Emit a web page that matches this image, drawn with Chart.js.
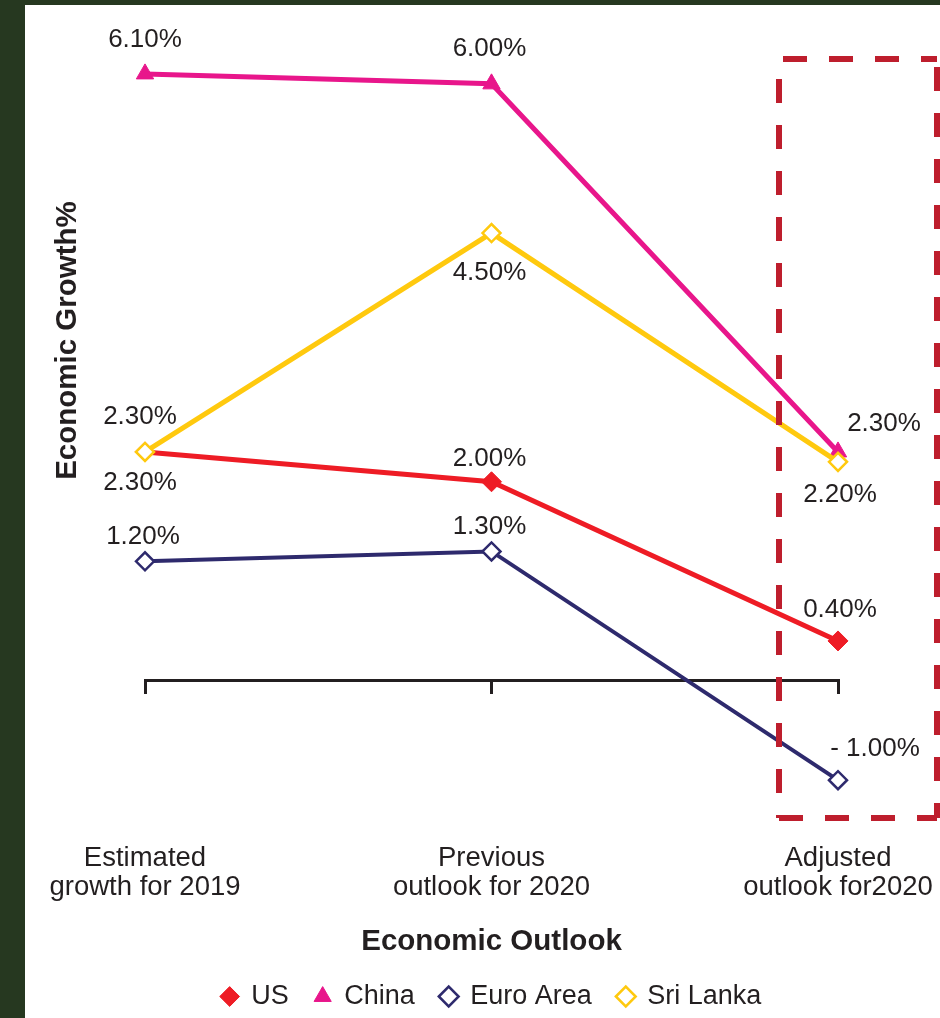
<!DOCTYPE html>
<html><head><meta charset="utf-8">
<script src="https://cdn.jsdelivr.net/npm/chart.js@4"></script>
<style>
html,body{margin:0;padding:0;background:#263820;width:940px;height:1018px;overflow:hidden}
#wrap{position:absolute;left:25px;top:5px;width:915px;height:1013px;background:#fff}
</style></head><body>
<div id="wrap"><canvas id="c"></canvas></div>
<script>
// ---- data ----
const categories = [["Estimated", "growth for 2019"], ["Previous", "outlook for 2020"], ["Adjusted", "outlook for2020"]];
const seriesNames = ["US", "China", "Euro Area", "Sri Lanka"];
const usValues = [2.3, 2.0, 0.4];
const chinaValues = [6.1, 6.0, 2.3];
const euroValues = [1.2, 1.3, -1.0];
const sriLankaValues = [2.3, 4.5, 2.2];
const xAxisTitle = "Economic Outlook";
const yAxisTitle = "Economic Growth%";

// ---- styles ----
const TXT = '#231f20';
const FONT = "'Liberation Sans', Arial, sans-serif";
const colors = { us: '#ee1c25', china: '#e8168b', euro: '#2e2a6d', sri: '#ffc90e' };
// data label offsets (dx, dy) from each point, in px
const usLabelOffsets = [[-5, 31], [-2, -23], [2, -31]];
const chinaLabelOffsets = [[0, -34], [-2, -35], [46, -28]];
const euroLabelOffsets = [[-2, -25], [-2, -25], [37, -31]];
const sriLabelOffsets = [[-5, -35], [-2, 40], [2, 33]];

function fmt(v) {
  return (v < 0 ? '- ' + Math.abs(v).toFixed(2) : v.toFixed(2)) + '%';
}

const dataLabelsPlugin = {
  id: 'dataLabels',
  afterDatasetsDraw(chart) {
    const ctx = chart.ctx;
    ctx.save();
    ctx.font = '26px ' + FONT;
    ctx.fillStyle = TXT;
    ctx.textAlign = 'center';
    ctx.textBaseline = 'middle';
    chart.data.datasets.forEach((ds, di) => {
      const meta = chart.getDatasetMeta(di);
      meta.data.forEach((pt, i) => {
        const off = ds.labelOffsets[i];
        ctx.fillText(fmt(ds.data[i]), pt.x + off[0], pt.y + off[1]);
      });
    });
    ctx.restore();
  }
};

const decorPlugin = {
  id: 'decor',
  afterDraw(chart) {
    const ctx = chart.ctx;
    const xs = chart.scales.x, ys = chart.scales.y;
    // y axis title
    ctx.save();
    ctx.font = 'bold 29.5px ' + FONT;
    ctx.fillStyle = TXT;
    ctx.textAlign = 'center';
    ctx.textBaseline = 'middle';
    ctx.translate(43, ys.getPixelForValue(3.42));
    ctx.rotate(-Math.PI / 2);
    ctx.fillText(yAxisTitle, 0, 0);
    ctx.restore();
    // dashed highlight box around the last category
    const cx = xs.getPixelForValue(2);
    const left = cx - 59, right = cx + 99;
    const top = ys.getPixelForValue(6.25), bottom = ys.getPixelForValue(-1.38);
    ctx.save();
    ctx.strokeStyle = '#be1e2d';
    ctx.lineWidth = 6;
    ctx.setLineDash([24, 22]);
    ctx.beginPath();
    ctx.moveTo(left + 4, top); ctx.lineTo(right, top);
    ctx.moveTo(left, top + 20); ctx.lineTo(left, bottom);
    ctx.moveTo(left, bottom); ctx.lineTo(right, bottom);
    ctx.moveTo(right, top + 8); ctx.lineTo(right, bottom);
    ctx.stroke();
    ctx.restore();
  }
};

new Chart(document.getElementById('c'), {
  type: 'line',
  data: {
    labels: categories,
    datasets: [
      { label: seriesNames[0], data: usValues, xAxisID: 'x', yAxisID: 'y', order: 2,
        borderColor: colors.us, borderWidth: 5, pointStyle: 'rectRot', pointRadius: 10,
        pointBackgroundColor: colors.us, pointBorderColor: colors.us, pointBorderWidth: 1,
        labelOffsets: usLabelOffsets },
      { label: seriesNames[1], data: chinaValues, xAxisID: 'x', yAxisID: 'y', order: 1,
        borderColor: colors.china, borderWidth: 5, pointStyle: 'triangle', pointRadius: 10,
        pointBackgroundColor: colors.china, pointBorderColor: colors.china, pointBorderWidth: 1,
        labelOffsets: chinaLabelOffsets },
      { label: seriesNames[2], data: euroValues, xAxisID: 'x', yAxisID: 'y', order: 3,
        borderColor: colors.euro, borderWidth: 4, pointStyle: 'rectRot', pointRadius: 9,
        pointBackgroundColor: '#ffffff', pointBorderColor: colors.euro, pointBorderWidth: 2.5,
        labelOffsets: euroLabelOffsets },
      { label: seriesNames[3], data: sriLankaValues, xAxisID: 'x', yAxisID: 'y', order: 0,
        borderColor: colors.sri, borderWidth: 5, pointStyle: 'rectRot', pointRadius: 9,
        pointBackgroundColor: '#ffffff', pointBorderColor: colors.sri, pointBorderWidth: 2.5,
        labelOffsets: sriLabelOffsets }
    ]
  },
  options: {
    responsive: true,
    maintainAspectRatio: false,
    animation: false,
    devicePixelRatio: 1,
    layout: { padding: { left: 120, right: 102, top: 49, bottom: -2 } },
    elements: { line: { tension: 0 }, point: { hoverRadius: 10 } },
    scales: {
      x: {
        type: 'category', position: 'bottom', offset: false,
        grid: { display: true, drawOnChartArea: false, drawTicks: true, tickLength: 39, color: 'rgba(0,0,0,0)' },
        border: { display: false },
        ticks: { color: TXT, font: { family: FONT, size: 27.5, lineHeight: 1.08 }, padding: 4, maxRotation: 0, autoSkip: false },
        title: { display: true, text: xAxisTitle, color: TXT,
                 font: { family: FONT, size: 29.5, weight: 'bold', lineHeight: 1.0 },
                 padding: { top: 21, bottom: 0 } }
      },
      xz: {
        type: 'category', axis: 'x', position: { y: 0 }, offset: false,
        grid: { display: true, drawOnChartArea: false, drawTicks: true, tickLength: 12, color: TXT, lineWidth: 3 },
        border: { display: true, color: TXT, width: 3 },
        ticks: { display: false }
      },
      y: {
        type: 'linear', display: false, min: -1.2, max: 6.3
      }
    },
    plugins: {
      legend: {
        position: 'bottom',
        labels: {
          usePointStyle: true, boxWidth: 16, boxHeight: 14, padding: 26, color: TXT,
          font: { family: FONT, size: 27 },
          sort: (a, b) => a.datasetIndex - b.datasetIndex
        }
      },
      tooltip: { enabled: false }
    }
  },
  plugins: [dataLabelsPlugin, decorPlugin]
});
</script>
</body></html>
